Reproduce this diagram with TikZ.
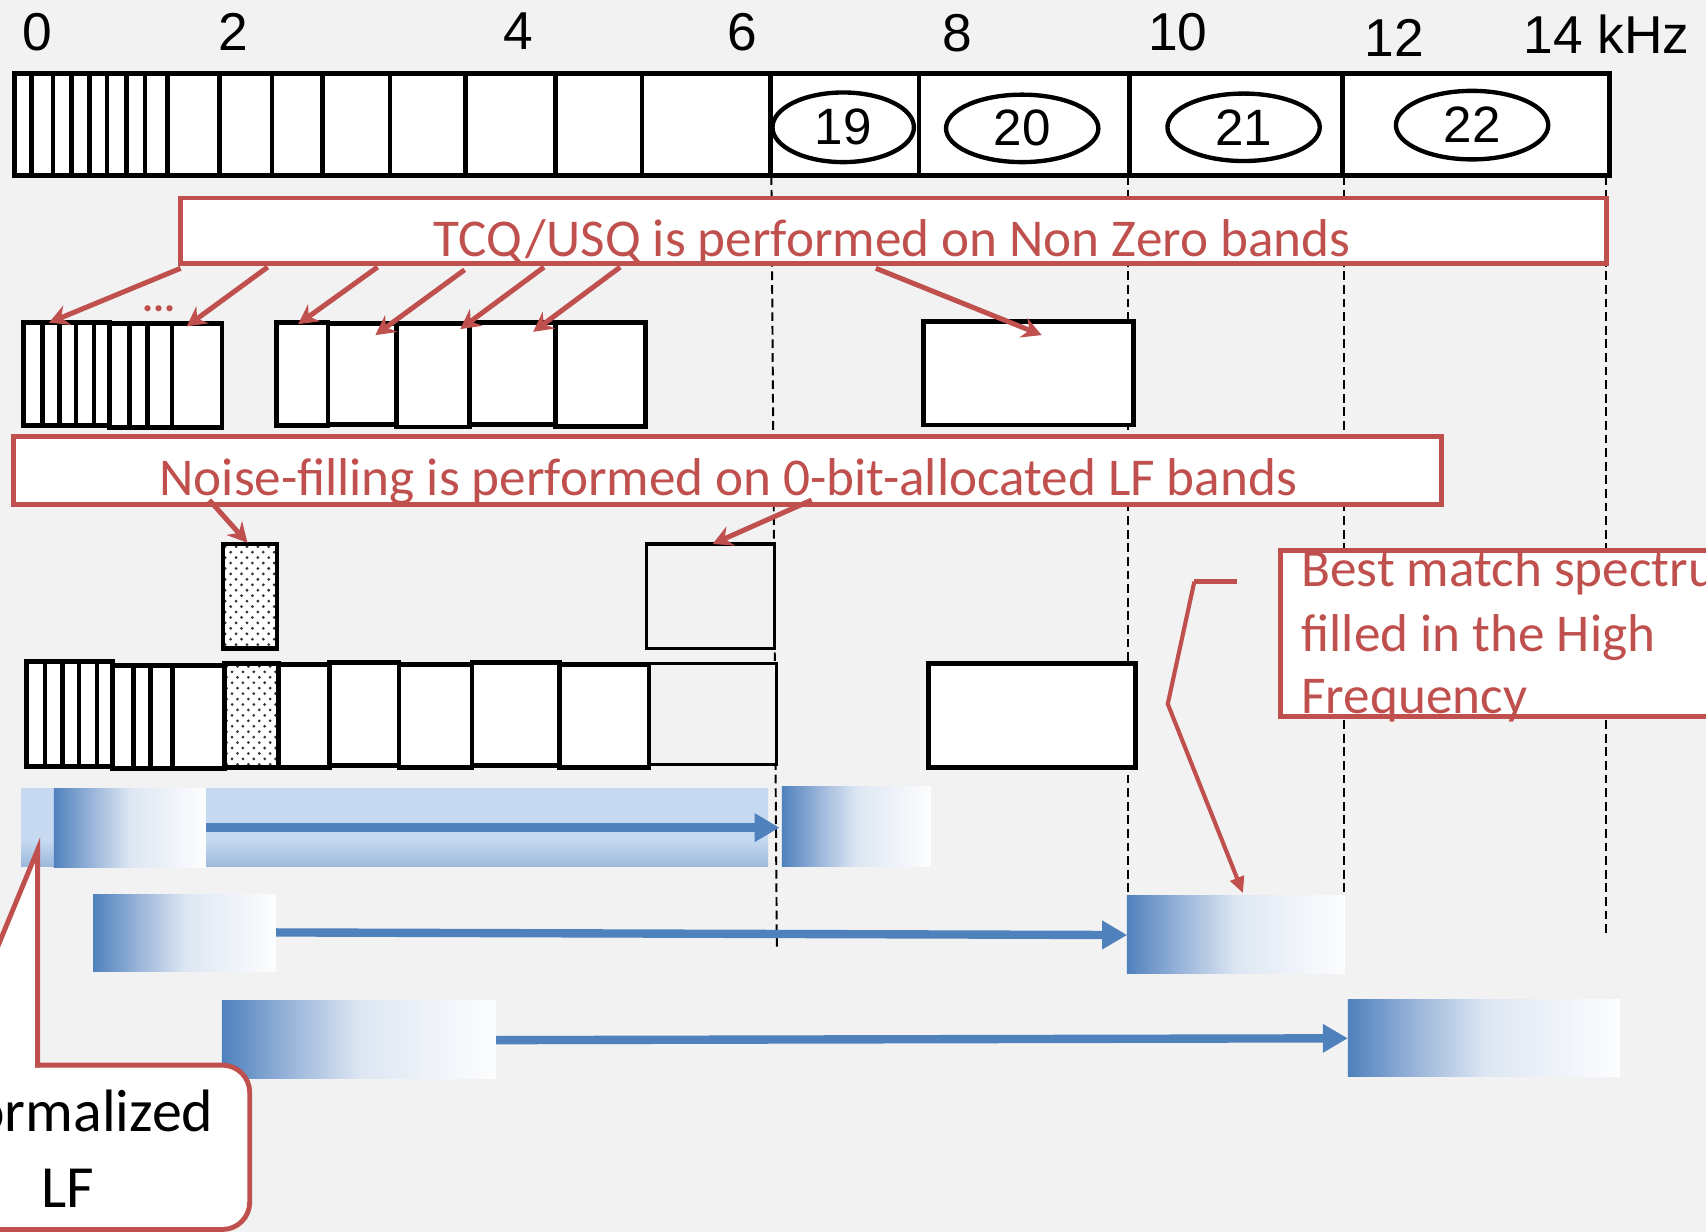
\documentclass[tikz,border=0pt]{standalone}
\usepackage{fontspec}
\newfontfamily\calfont{Carlito}
\newfontfamily\arifont{Liberation Sans}
\usetikzlibrary{arrows.meta,shapes.geometric}
\definecolor{bg}{HTML}{F2F2F2}
\definecolor{red1}{HTML}{C0504D}
\definecolor{blue1}{HTML}{4F81BD}
\definecolor{lb1}{HTML}{C6D9F1}
\definecolor{lb2}{HTML}{9DB9DC}
\definecolor{gB}{HTML}{9AB5DA}
\definecolor{gC}{HTML}{DCE6F2}
\definecolor{gD}{HTML}{EEF2F9}
\definecolor{gE}{HTML}{FCFDFE}
\pgfdeclarehorizontalshading{bgrad}{100bp}{color(0bp)=(blue1); color(25bp)=(blue1); color(37.5bp)=(gB); color(50bp)=(gC); color(62.5bp)=(gD); color(75bp)=(gE); color(100bp)=(gE)}
\pgfdeclareverticalshading{lgrad}{100bp}{color(0bp)=(lb2); color(25bp)=(lb2); color(42bp)=(lb1); color(75bp)=(lb1); color(100bp)=(lb1)}
\tikzset{
 blk/.style={draw=black, line width=4.5pt, fill=white},
 divl/.style={draw=black, line width=4.2pt},
 thincell/.style={draw=black, line width=2.8pt, fill=bg},
 redbox/.style={draw=red1, line width=4.5pt, fill=white},
 redarr/.style={draw=red1, line width=4.6pt, -{Stealth[length=18pt,width=19pt,inset=6pt]}},
 bluearr/.style={draw=blue1, line width=7.7pt, -{Triangle[length=23pt,width=25pt]}},
 dashl/.style={draw=black, line width=1.8pt, dash pattern=on 8pt off 4.5pt},
 oval/.style={ellipse, draw=black, line width=4pt, fill=white, inner sep=0pt, outer sep=0pt, font=\arifont\fontsize{47pt}{47pt}\selectfont},
 tick/.style={anchor=base, inner sep=0pt, font=\arifont\fontsize{49pt}{49pt}\selectfont},
 redtxt/.style={text=red1, inner sep=0pt, font=\calfont\fontsize{48.9pt}{58.5pt}\selectfont},
 blktxt/.style={text=black, inner sep=0pt, anchor=base, font=\calfont\fontsize{55pt}{70pt}\selectfont},
}
\newcommand\stipplebox[4]{%
 \begin{scope}
 \clip (#1,#2) rectangle (#3,#4);
 \fill[white] (#1,#2) rectangle (#3,#4);
 \foreach \j in {0,...,20}{
   \pgfmathsetmacro\off{mod(\j,2)*5}
   \foreach \i in {0,...,6}{
     \fill[black!80] ({#1+2+\off+\i*10},{#2+2.5+\j*5}) circle (1.4pt);
   }
 }
 \end{scope}
 \draw[blk, fill=none] (#1,#2) rectangle (#3,#4);
}
\begin{document}
\begin{tikzpicture}[x=1pt, y=-1pt, line join=miter]
\useasboundingbox (0,0) rectangle (1568,1132);
\fill[bg] (0,0) rectangle (1568,1132);
\clip (0,0) rectangle (1568,1132);

% dashed guide lines
\coordinate (d1t) at (709,162);   \coordinate (d1b) at (714,873);
\coordinate (d2t) at (1036.5,162);\coordinate (d2b) at (1036.5,823);
\coordinate (d3t) at (1235,162);  \coordinate (d3b) at (1235,823);
\coordinate (d4t) at (1476,162);  \coordinate (d4b) at (1476,858);
\draw[dashl] (d1t) -- (d1b);
\draw[dashl] (d2t) -- (d2b);
\draw[dashl] (d3t) -- (d3b);
\draw[dashl] (d4t) -- (d4b);

% tick labels
\node[tick] (k0) at (34.7,46) {0};
\node[tick] (k2) at (214.3,46) {2};
\node[tick] (k4) at (476.5,45.5) {4};
\node[tick] (k6) at (682.3,46) {6};
\node[tick] (k8) at (879.8,47.5) {8};
\node[tick] (k10) at (1082.7,46) {10};
\node[tick] (k12) at (1281.7,52) {12};
\node[tick] (k14) at (1476.7,49) {14 kHz};

% top band bar
\draw[blk, line width=5pt] (13.5,67.5) rectangle (1479.5,161.5);
\foreach \x in {29.1,48.8,65.7,82.5,98.5,116.3,133.2,153.8,201.6,249.9,296.4,358.3,428.1,510.7,590,708,844.6,1038,1234}
  \draw[divl] (\x,67.5) -- (\x,161.5);
\node[oval, minimum width=130pt, minimum height=64pt] (b19) at (775,117) {19};
\node[oval, minimum width=140pt, minimum height=62pt] (b20) at (939.5,118) {20};
\node[oval, minimum width=140pt, minimum height=62pt] (b21) at (1143,117) {21};
\node[oval, minimum width=140pt, minimum height=63pt] (b22) at (1353,115) {22};

% TCQ box
\node[redbox, outer sep=0pt, inner sep=0pt, anchor=north west, minimum width=1310.5pt, minimum height=60.5pt] (tcq) at (166,182) {};
\node[redtxt, anchor=base] (tcqt) at (820,236) {TCQ/USQ is performed on Non Zero bands};

% row 2 : quantised bands
\draw[blk] (21.3,296) rectangle (100.5,391);
\foreach \x in {39,54.6,69.8,86.2} \draw[divl] (\x,296) -- (\x,391);
\draw[blk] (100.5,297.5) rectangle (204,393);
\foreach \x in {119,135.4,158} \draw[divl] (\x,297.5) -- (\x,393);
\draw[blk] (254.4,296) rectangle (301.5,391);
\draw[blk] (301.5,297) rectangle (364.3,390);
\draw[blk] (364.3,297.5) rectangle (431.6,392.5);
\draw[blk] (431.6,296) rectangle (510.8,390);
\draw[blk] (510.8,296.6) rectangle (593,392);
\node[blk, outer sep=0pt, inner sep=0pt, anchor=north west, minimum width=192.5pt, minimum height=95pt] (q20) at (849,295.6) {};
\node[text=red1, inner sep=0pt, anchor=base, font=\calfont\bfseries\fontsize{38pt}{38pt}\selectfont] (dots) at (146.5,286.5) {...};

% TCQ arrows
\coordinate (a1s) at (166,246.6); \coordinate (a1e) at (45,296.6);
\coordinate (a2s) at (246,245.5); \coordinate (a2e) at (171.5,300);
\coordinate (a3s) at (347,245.5); \coordinate (a3e) at (274,298);
\coordinate (a4s) at (427,248);   \coordinate (a4e) at (345,308);
\coordinate (a5s) at (500,245.5); \coordinate (a5e) at (423,302.5);
\coordinate (a6s) at (570,245.5); \coordinate (a6e) at (490,305);
\coordinate (a7s) at (805,246.6); \coordinate (a7e) at (957.4,308);
\draw[redarr] (a1s) -- (a1e);
\draw[redarr] (a2s) -- (a2e);
\draw[redarr] (a3s) -- (a3e);
\draw[redarr] (a4s) -- (a4e);
\draw[redarr] (a5s) -- (a5e);
\draw[redarr] (a6s) -- (a6e);
\draw[redarr] (a7s) -- (a7e);

% noise filling box
\node[redbox, outer sep=0pt, inner sep=0pt, anchor=north west, minimum width=1313pt, minimum height=62pt] (noise) at (12,401.5) {};
\node[redtxt, anchor=base] (noiset) at (669.5,455) {Noise-filling is performed on 0-bit-allocated LF bands};

% row 3
\stipplebox{205}{500}{254.6}{596}
\draw[thincell] (594,500) rectangle (711.5,596);
\coordinate (n1s) at (192.4,459.6); \coordinate (n1e) at (227.4,498.8);
\coordinate (n2s) at (746,459.6);   \coordinate (n2e) at (655,500);
\draw[redarr] (n1s) -- (n1e);
\draw[redarr] (n2s) -- (n2e);

% row 4
\draw[blk] (24.4,608) rectangle (103.2,704.6);
\foreach \x in {41.3,57.2,72.7,89.1} \draw[divl] (\x,608) -- (\x,704.6);
\draw[blk] (103.2,611.5) rectangle (206.3,706.5);
\foreach \x in {122.9,138.3,158.5} \draw[divl] (\x,611.5) -- (\x,706.5);
\draw[blk] (254.6,610.5) rectangle (302.5,705.5);
\draw[blk] (302.5,608.5) rectangle (366.7,703.5);
\draw[blk] (366.7,610.5) rectangle (433.8,705.5);
\draw[blk] (433.8,608.5) rectangle (514.4,703.5);
\draw[blk] (514.4,610.5) rectangle (596.5,705.5);
\draw[thincell] (596.5,610) rectangle (713.7,703);
\draw[divl] (596.5,610) -- (596.5,705.5);
\stipplebox{206.3}{610}{256}{705}
\node[blk, outer sep=0pt, inner sep=0pt, anchor=north west, minimum width=191pt, minimum height=95.4pt] (f20) at (853,609.6) {};

% best match callout
\draw[redbox] (1177,506) rectangle (1700,658.7);
\node[redtxt, anchor=base west] (bm1t) at (1196,539) {Best match spectrum is};
\node[redtxt, anchor=base west] (bm2t) at (1196,599) {filled in the High};
\node[redtxt, anchor=base west] (bm3t) at (1196,656) {Frequency};

% blue mapping
\shade[shading=lgrad] (19.5,725) rectangle (706,796);
\shade[shading=bgrad] (49.6,725) rectangle (189,797);
\shade[shading=bgrad] (718.6,723) rectangle (855,796);
\shade[shading=bgrad] (85.5,821.7) rectangle (253.8,893);
\shade[shading=bgrad] (1035.6,823.5) rectangle (1236,895);
\shade[shading=bgrad] (204,920) rectangle (456,991.4);
\shade[shading=bgrad] (1238.8,919) rectangle (1489,989.6);
\coordinate (r1s) at (189,760.7);  \coordinate (r1e) at (716.5,760.7);
\coordinate (r2s) at (253.8,857);  \coordinate (r2e) at (1036,859.4);
\coordinate (r3s) at (456,956);    \coordinate (r3e) at (1238.8,954.3);
\draw[bluearr] (r1s) -- (r1e);
\draw[bluearr] (r2s) -- (r2e);
\draw[bluearr] (r3s) -- (r3e);

% best match pointer line
\coordinate (bmA) at (1137,534.6);
\coordinate (bmB) at (1097.7,534.6);
\coordinate (bmC) at (1073.3,647);
\coordinate (bmD) at (1142.5,821);
\draw[red1, line width=5pt] (bmA) -- (bmB);
\draw[red1, line width=3.8pt, -{Triangle[length=15pt,width=13pt]}] (bmB) -- (bmC) -- (bmD);

% normalized LF callout
\coordinate (apex) at (34.6,781);
\coordinate (wl) at (-47,979);
\coordinate (wr) at (34.6,979);
\fill[white] (wl) -- (apex) -- (wr) -- cycle;
\fill[white, rounded corners=25pt] (-100,979) rectangle (229.5,1130);
\draw[red1, line width=4.5pt, line cap=rect] (wl) -- (apex) -- (wr);
\draw[red1, line width=4.5pt, line cap=rect, rounded corners=25pt] (wr) -- (229.5,979) -- (229.5,1130) -- (-100,1130);
\node[blktxt] (norm1) at (68,1040) {Normalized};
\node[blktxt] (norm2) at (62,1110) {LF};
\end{tikzpicture}
\end{document}
